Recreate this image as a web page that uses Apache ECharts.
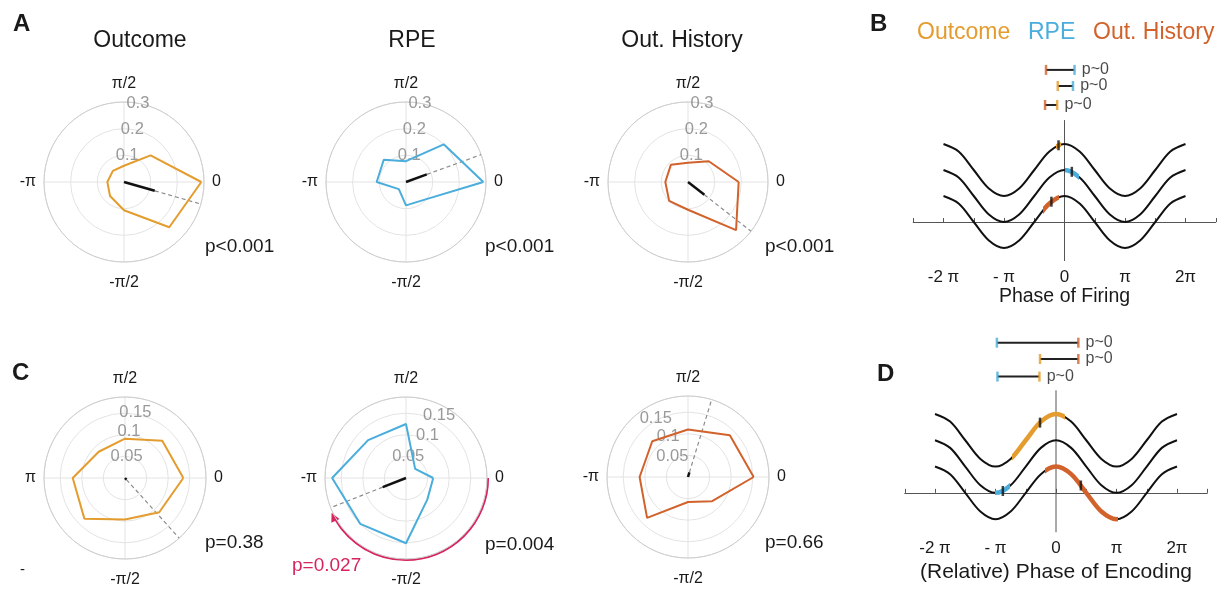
<!DOCTYPE html>
<html><head><meta charset="utf-8">
<script src="https://cdn.jsdelivr.net/npm/echarts@6/dist/echarts.min.js"></script>
<style>html,body{margin:0;padding:0;background:#fff}#c{width:1227px;height:589px}</style>
</head><body><div id="c"></div>
<script>
const PI = Math.PI;
// ---------------- data ----------------
const binAngles = [0, 45, 90, 135, 180, 225, 270, 315];          // degrees
const outcomeA = [0.29, 0.141, 0.061, 0.059, 0.0625, 0.074, 0.106, 0.24];
const rpeA     = [0.29, 0.20, 0.078, 0.118, 0.11, 0.038, 0.0875, 0.095];
const histA    = [0.19, 0.11, 0.072, 0.091, 0.085, 0.10, 0.104, 0.255];
const outcomeC = [0.135, 0.122, 0.091, 0.086, 0.121, 0.133, 0.096, 0.112];
const rpeC     = [0.063, 0.03, 0.125, 0.124, 0.171, 0.15, 0.151, 0.07];
const histC    = [0.152, 0.137, 0.11, 0.117, 0.112, 0.134, 0.058, 0.079];
const meanAngles  = [344, 20, 322, 312, 201.5, 73];
const meanLengths = [0.12, 0.083, 0.078, 0.005, 0.058, 0.011];
const rMaxA = 0.3, rMaxC = 0.1875;
const ringTicksA = ['0.1', '0.2', '0.3'];
const ringTicksC = ['0.05', '0.1', '0.15'];
const panelTitles = ['Outcome', 'RPE', 'Out. History'];
const pValues = ['p<0.001', 'p<0.001', 'p<0.001', 'p=0.38', 'p=0.004', 'p=0.66'];
const arcPValue = 'p=0.027';
const arcRadius = 0.19, arcEndAngle = 205;

const phaseSteps = [-8,-7,-6,-5,-4,-3,-2,-1,0,1,2,3,4,5,6,7,8];   // multiples of pi/4
const waveShape  = [1,0.71,0,-0.71,-1,-0.71,0,0.71,1,0.71,0,-0.71,-1,-0.71,0,0.71,1];
const waveOffsets = [2, 1, 0];                                     // Outcome, RPE, Out. History
const piLabels = {'-4': '-2 π', '-2': '- π', '0': '0', '2': 'π', '4': '2π'};

const firingRanges = [[-0.43, -0.19], [0.03, 0.77], [-1.11, -0.26]];
const firingMeans  = [[-0.31, 2.95], [0.38, 1.93], [-0.68, 0.78]];
const firingBarY   = [5.85, 5.23, 4.5];
const firingBarX   = [[-0.96, 0.52], [-0.35, 0.44], [-1.01, -0.38]];
const firingBarEnds = [[2, 1], [0, 1], [2, 0]];
const encodingRanges = [[-2.30, 0.47], [-3.16, -2.38], [-0.57, 3.23]];
const encodingMeans  = [[-0.83, 2.67], [-2.76, 0.07], [1.29, 0.28]];
const encodingBarY   = [5.71, 5.09, 4.42];
const encodingBarX   = [[-3.07, 1.16], [-0.83, 1.16], [-3.04, -0.86]];
const encodingBarEnds = [[1, 2], [0, 2], [1, 0]];
const barLabel = 'p~0';

// ---------------- layout / style ----------------
const FONT = '"Liberation Sans", Arial, Helvetica, sans-serif';
const COL = ['#E49C2E', '#4AADDC', '#D2622B'];
const RED = '#D8245C';
const INK = '#1a1a1a';
const polarLayout = [
  {center: [124, 182], radius: 80}, {center: [406, 182], radius: 80}, {center: [688, 182], radius: 80},
  {center: [125, 478], radius: 81}, {center: [406, 478], radius: 81}, {center: [688, 477], radius: 81}];
const ringLabelPos = [
  [[0.1, 83], [0.2, 81], [0.3, 80]], [[0.1, 83], [0.2, 81], [0.3, 80]], [[0.1, 83], [0.2, 81], [0.3, 80]],
  [[0.051, 86], [0.107, 85], [0.154, 81]], [[0.049, 84], [0.11, 63], [0.163, 62]], [[0.059, 128], [0.105, 116], [0.154, 119]]];
const pPos = [[205, 247], [485, 247], [765, 247], [205, 543], [485, 545], [765, 543]];

const polarDefs = [
  {vals: outcomeA, col: 0, max: rMaxA, step: 0.1, ticks: ringTicksA, left: '-π'},
  {vals: rpeA, col: 1, max: rMaxA, step: 0.1, ticks: ringTicksA, left: '-π'},
  {vals: histA, col: 2, max: rMaxA, step: 0.1, ticks: ringTicksA, left: '-π'},
  {vals: outcomeC, col: 0, max: rMaxC, step: 0.05, ticks: ringTicksC, left: 'π'},
  {vals: rpeC, col: 1, max: rMaxC, step: 0.05, ticks: ringTicksC, left: '-π'},
  {vals: histC, col: 2, max: rMaxC, step: 0.05, ticks: ringTicksC, left: '-π'}];

const option = {animation: false, textStyle: {fontFamily: FONT},
  polar: [], angleAxis: [], radiusAxis: [], grid: [], xAxis: [], yAxis: [], series: [], visualMap: []};

const polarSeriesIdx = [];
polarDefs.forEach((d, i) => {
  option.polar.push({center: polarLayout[i].center, radius: polarLayout[i].radius});
  const lab = {0: '0', 90: '{t|π/2}', 180: d.left, 270: '{b|-π/2}'};
  option.angleAxis.push({polarIndex: i, type: 'value', min: 0, max: 360, interval: 90,
    startAngle: 0, clockwise: false,
    axisLine: {lineStyle: {color: '#cdcdcd', width: 1}}, axisTick: {show: false},
    splitLine: {lineStyle: {color: '#e3e3e3', width: 1}},
    axisLabel: {margin: 8, color: INK, fontSize: 16, fontFamily: FONT,
      formatter: v => lab[v] || '',
      rich: {t: {fontSize: 16, fontFamily: FONT, color: INK, padding: [0, 0, 2, 0]},
             b: {fontSize: 16, fontFamily: FONT, color: INK, padding: [5, 0, 0, 0]}}}});
  option.radiusAxis.push({polarIndex: i, type: 'value', min: 0, max: d.max, interval: d.step,
    axisLine: {show: false}, axisTick: {show: false}, axisLabel: {show: false},
    splitLine: {lineStyle: {color: '#e3e3e3', width: 1}}});
  const poly = binAngles.map((a, k) => [d.vals[k], a]);
  poly.push([d.vals[0], 360]);
  polarSeriesIdx.push(option.series.length);
  option.series.push({type: 'line', coordinateSystem: 'polar', polarIndex: i, data: poly, symbol: 'none',
    lineStyle: {color: COL[d.col], width: 2}, z: 4, silent: true});
  option.series.push({type: 'line', coordinateSystem: 'polar', polarIndex: i,
    data: [[meanLengths[i], meanAngles[i]], [d.max, meanAngles[i]]], symbol: 'none',
    lineStyle: {color: '#8c8c8c', width: 1.2, type: [4, 3]}, z: 3, silent: true});
  option.series.push({type: 'line', coordinateSystem: 'polar', polarIndex: i,
    data: [[0, meanAngles[i]], [meanLengths[i], meanAngles[i]]], symbol: 'none',
    lineStyle: {color: '#111', width: 2.5}, z: 5, silent: true});
  option.series.push({type: 'scatter', coordinateSystem: 'polar', polarIndex: i, symbolSize: 1,
    itemStyle: {color: 'rgba(0,0,0,0)'}, silent: true, z: 2,
    data: ringLabelPos[i].map((p, k) => [p[0], p[1], d.ticks[k]]),
    label: {show: true, position: 'inside', formatter: p => p.data[2], color: '#808080', fontSize: 16.5, fontFamily: FONT}});
});

const gridLayout = [{left: 913.25, top: 40, width: 302.5, height: 221},
                    {left: 904.75, top: 308.75, width: 302.5, height: 223.55}];
const waveDefs = [
  {ranges: firingRanges, means: firingMeans, barY: firingBarY, barX: firingBarX, ends: firingBarEnds,
   zeroTop: 3.92, name: 'Phase of Firing', nameGap: 26, nameSize: 19.5},
  {ranges: encodingRanges, means: encodingMeans, barY: encodingBarY, barX: encodingBarX, ends: encodingBarEnds,
   zeroTop: 3.9, name: '(Relative) Phase of Encoding', nameGap: 29, nameSize: 21}];

waveDefs.forEach((w, g) => {
  option.grid.push(gridLayout[g]);
  option.xAxis.push({gridIndex: g, type: 'value', min: -2.5 * PI, max: 2.5 * PI, interval: PI / 2,
    axisLine: {lineStyle: {color: '#555', width: 1}},
    axisTick: {inside: true, length: 4, lineStyle: {color: '#555'}},
    splitLine: {show: false},
    axisLabel: {margin: 8, fontSize: 17, color: INK, fontFamily: FONT,
      formatter: v => piLabels[String(Math.round(v / (PI / 2)))] || ''},
    name: w.name, nameLocation: 'middle', nameGap: w.nameGap,
    nameTextStyle: {fontSize: w.nameSize, color: INK, fontFamily: FONT}});
  option.yAxis.push({gridIndex: g, type: 'value', min: -1.5, max: 7, show: false});
  const base = {xAxisIndex: g, yAxisIndex: g, silent: true, symbol: 'none'};
  option.series.push(Object.assign({type: 'line', data: [[0, -1.5], [0, w.zeroTop]],
    lineStyle: {color: '#555', width: 1}, z: 2}, base));
  waveOffsets.forEach((off, c) => {
    const pts = phaseSteps.map((s, k) => [s * PI / 4, waveShape[k] + off]);
    option.series.push(Object.assign({type: 'line', data: pts, smooth: 0.33,
      lineStyle: {color: '#111', width: 2}, z: 3}, base));
    option.visualMap.push({type: 'piecewise', show: false, seriesIndex: option.series.length, dimension: 0,
      pieces: [{gte: w.ranges[c][0], lte: w.ranges[c][1], color: COL[c]}],
      outOfRange: {color: 'rgba(255,255,255,0)'}});
    option.series.push(Object.assign({type: 'line', data: pts, smooth: 0.33,
      lineStyle: {width: 4.5, cap: 'butt'}, z: 4}, base));
  });
  option.series.push({type: 'scatter', xAxisIndex: g, yAxisIndex: g, silent: true, z: 6,
    symbol: 'rect', symbolSize: [2.5, 10], itemStyle: {color: '#111'}, data: w.means});
  w.barY.forEach((y, r) => {
    const [x1, x2] = w.barX[r];
    option.series.push(Object.assign({type: 'line', data: [[x1, y], [x2, y]],
      lineStyle: {color: '#222', width: 2}, z: 5}, base));
    option.series.push({type: 'scatter', xAxisIndex: g, yAxisIndex: g, silent: true, z: 6,
      symbol: 'rect', symbolSize: [2.5, 10],
      data: [{value: [x1, y], itemStyle: {color: COL[w.ends[r][0]]}},
             {value: [x2, y], itemStyle: {color: COL[w.ends[r][1]]},
              label: {show: true, position: 'right', distance: 6, formatter: barLabel,
                      fontSize: 16, color: INK, fontFamily: FONT}}]});
  });
});

const chart = echarts.init(document.getElementById('c'));
chart.setOption(option);

// ---------------- texts & arc ----------------
function txt(t, x, y, o) {
  return Object.assign({type: 'text', x: x, y: y, silent: true,
    style: Object.assign({text: t, fontFamily: FONT, fontSize: 19, fill: INK,
      textAlign: 'left', textVerticalAlign: 'middle'}, o || {})});
}
const els = [];
[['A', 13, 24], ['B', 870, 24], ['C', 12, 373], ['D', 877, 374]].forEach(p =>
  els.push(txt(p[0], p[1], p[2], {fontSize: 24, fontWeight: 'bold'})));
[[140, 41], [412, 41], [682, 41]].forEach((p, i) =>
  els.push(txt(panelTitles[i], p[0], p[1], {fontSize: 23, textAlign: 'center'})));
[917, 1028, 1093].forEach((x, i) =>
  els.push(txt(panelTitles[i], x, 33, {fontSize: 23, fill: COL[i]})));
pValues.forEach((p, i) => els.push(txt(p, pPos[i][0], pPos[i][1])));
els.push(txt('-', 20, 570, {fontSize: 15}));
els.push(txt(arcPValue, 292, 566, {fill: RED}));

const sIdx = polarSeriesIdx[4];
const c0 = chart.convertToPixel({seriesIndex: sIdx}, [0, 0]);
const c1 = chart.convertToPixel({seriesIndex: sIdx}, [arcRadius, 0]);
const R = Math.hypot(c1[0] - c0[0], c1[1] - c0[1]);
const tipA = (360 - arcEndAngle) * PI / 180;       // canvas angle, clockwise
const headLen = 9, headHalf = 4.5;
const tip = [c0[0] + R * Math.cos(tipA), c0[1] + R * Math.sin(tipA)];
const dir = [-Math.sin(tipA), Math.cos(tipA)];
const nrm = [-dir[1], dir[0]];
const bc = [tip[0] - headLen * dir[0], tip[1] - headLen * dir[1]];
els.push({type: 'arc', silent: true, shape: {cx: c0[0], cy: c0[1], r: R, startAngle: 0,
  endAngle: tipA - headLen * 0.8 / R, clockwise: true},
  style: {stroke: RED, lineWidth: 2, fill: null}});
els.push({type: 'polygon', silent: true,
  shape: {points: [tip, [bc[0] + headHalf * nrm[0], bc[1] + headHalf * nrm[1]],
                   [bc[0] - headHalf * nrm[0], bc[1] - headHalf * nrm[1]]]},
  style: {fill: RED}});
chart.setOption({graphic: {elements: els}});
</script></body></html>
